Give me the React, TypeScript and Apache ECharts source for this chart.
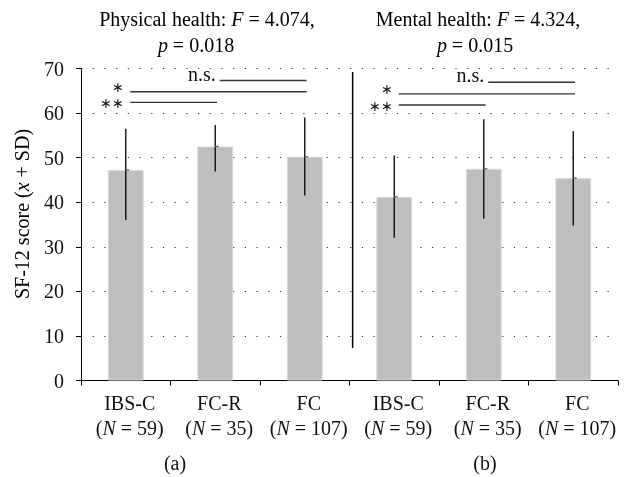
import React, { useEffect, useRef } from "react";
import * as echarts from "echarts";

// ---- data ----
const groups = ["IBS-C", "FC-R", "FC", "IBS-C", "FC-R", "FC"];
const sampleN = [59, 35, 107, 59, 35, 107];
const means = [47.2, 52.5, 50.2, 41.2, 47.5, 45.4];
const errLow = [36.0, 46.9, 41.5, 32.0, 36.3, 34.8];
const errHigh = [56.5, 57.3, 59.0, 50.5, 58.6, 56.0];

const panelNames = ["Physical health", "Mental health"];
const panelF = ["4.074", "4.324"];
const panelP = ["0.018", "0.015"];
const panelTags = ["(a)", "(b)"];

// significance brackets: from group index to group index, level (score), label
const bracketFrom = [0, 0, 1, 3, 3, 4];
const bracketTo = [1, 2, 2, 4, 5, 5];
const bracketLevel = [62.4, 64.8, 67.3, 61.8, 64.3, 66.9];
const bracketLabel = ["∗∗", "∗", "n.s.", "∗∗", "∗", "n.s."];

// separator between panels (x in category units, score span)
const separatorX = [3.035];
const separatorSpan = [7.3, 69.2];

const yMin = 0;
const yMax = 70;
const yStep = 10;

const FONT = "Liberation Serif";
const FS = 20;
const INK = "#111";

export default function App() {
  const ref = useRef<HTMLDivElement>(null);

  useEffect(() => {
    const chart = echarts.init(ref.current!, null, { renderer: "svg" });
    const rich = {
      r: { fontFamily: FONT, fontSize: FS, color: INK, lineHeight: 25 },
      i: { fontFamily: FONT, fontSize: FS, color: INK, lineHeight: 25, fontStyle: "italic" },
    };
    const option: any = {
      animation: false,
      grid: { left: 81, right: 12, top: 68.5, bottom: 96.5, containLabel: false },
      xAxis: [
        {
          type: "category",
          data: groups.map((_, i) => String(i)),
          axisLine: { lineStyle: { color: "#000", width: 1 } },
          axisTick: { show: true, length: 5, lineStyle: { color: "#000" } },
          axisLabel: {
            interval: 0,
            margin: 10,
            padding: [0, 0, 0, 8],
            formatter: (_v: string, i: number) =>
              `{r|${groups[i]}}\n{r|(}{i|N}{r| = ${sampleN[i]})}`,
            rich,
          },
          splitLine: { show: false },
        },
        { type: "value", min: 0, max: 6, show: false },
      ],
      yAxis: {
        type: "value",
        min: yMin,
        max: yMax,
        interval: yStep,
        axisLine: { show: true, lineStyle: { color: "#000", width: 1 } },
        axisTick: { show: true, length: 5, lineStyle: { color: "#000" } },
        axisLabel: { fontFamily: FONT, fontSize: FS, color: INK, margin: 17 },
        splitLine: { show: true, lineStyle: { type: [1.2, 10.5], color: "#333", width: 1.2 } },
      },
      series: [
        {
          type: "bar",
          data: means,
          barWidth: "40%",
          itemStyle: { color: "#bebebe", borderColor: "#d8d8d8", borderWidth: 1 },
          z: 2,
        },
        {
          type: "custom",
          xAxisIndex: 0,
          data: means.map((m, i) => [i, errLow[i], errHigh[i], m]),
          renderItem: (_p: any, api: any) => {
            const lo = api.coord([api.value(0), api.value(1)]);
            const hi = api.coord([api.value(0), api.value(2)]);
            const mid = api.coord([api.value(0), api.value(3)]);
            return {
              type: "group",
              children: [
                { type: "line", shape: { x1: lo[0], y1: lo[1], x2: hi[0], y2: hi[1] }, style: { stroke: "#111", lineWidth: 1.4 } },
                { type: "line", shape: { x1: mid[0], y1: mid[1], x2: mid[0] + 3.5, y2: mid[1] }, style: { stroke: "#7b62a6", lineWidth: 1.6 } },
              ],
            };
          },
          z: 5,
        },
        {
          type: "custom",
          xAxisIndex: 1,
          data: bracketFrom.map((f, k) => [f + 0.55, bracketTo[k] + 0.52, bracketLevel[k], k]),
          renderItem: (_p: any, api: any) => {
            const a = api.coord([api.value(0), api.value(2)]);
            const b = api.coord([api.value(1), api.value(2)]);
            const k = api.value(3);
            const lab = bracketLabel[k];
            const isNs = lab === "n.s.";
            return {
              type: "group",
              children: [
                { type: "line", shape: { x1: a[0], y1: a[1], x2: b[0], y2: b[1] }, style: { stroke: "#333", lineWidth: 1.4 } },
                {
                  type: "text",
                  style: {
                    text: lab,
                    x: a[0] - (isNs ? 4 : 6),
                    y: a[1] + (isNs ? -7 : lab === "∗" ? -4 : 1),
                    align: "right",
                    verticalAlign: "middle",
                    fontFamily: FONT,
                    fontSize: isNs ? FS : 14,
                    lineHeight: isNs ? FS : 14,
                    fill: INK,
                  },
                },
              ],
            };
          },
          z: 6,
        },
        {
          type: "custom",
          xAxisIndex: 1,
          data: separatorX.map((x) => [x, separatorSpan[0], separatorSpan[1]]),
          renderItem: (_p: any, api: any) => {
            const a = api.coord([api.value(0), api.value(1)]);
            const b = api.coord([api.value(0), api.value(2)]);
            return { type: "line", shape: { x1: a[0], y1: a[1], x2: b[0], y2: b[1] }, style: { stroke: "#000", lineWidth: 1.5 } };
          },
          z: 6,
        },
      ],
      graphic: [
        {
          type: "text",
          x: 22,
          y: 214,
          rotation: Math.PI / 2,
          style: {
            text: "{r|SF-12 score (}{i|x}{r| + SD)}",
            rich,
            align: "center",
            verticalAlign: "middle",
          },
        },
        { type: "text", x: 207, y: 19, style: { text: `{r|${panelNames[0]}: }{i|F}{r| = ${panelF[0]},}`, rich, align: "center", verticalAlign: "middle" } },
        { type: "text", x: 196, y: 45, style: { text: `{i|p}{r| = ${panelP[0]}}`, rich, align: "center", verticalAlign: "middle" } },
        { type: "text", x: 478, y: 19, style: { text: `{r|${panelNames[1]}: }{i|F}{r| = ${panelF[1]},}`, rich, align: "center", verticalAlign: "middle" } },
        { type: "text", x: 475, y: 45, style: { text: `{i|p}{r| = ${panelP[1]}}`, rich, align: "center", verticalAlign: "middle" } },
        { type: "text", x: 175, y: 463, style: { text: panelTags[0], fontFamily: FONT, fontSize: FS, fill: INK, align: "center", verticalAlign: "middle" } },
        { type: "text", x: 485, y: 463, style: { text: panelTags[1], fontFamily: FONT, fontSize: FS, fill: INK, align: "center", verticalAlign: "middle" } },
      ],
    };
    chart.setOption(option);
    return () => chart.dispose();
  }, []);

  return <div ref={ref} style={{ position: "fixed", left: 0, top: 0, width: 630, height: 477 }} />;
}
